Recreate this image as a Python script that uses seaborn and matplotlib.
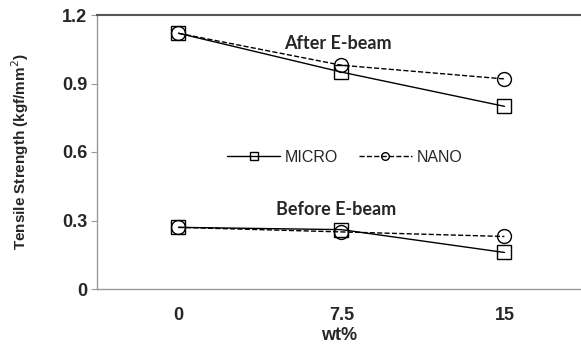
import numpy as np
import pandas as pd
import matplotlib
matplotlib.use("Agg")
import matplotlib.pyplot as plt
import seaborn as sns

# values
wt_labels = ["0", "7.5", "15"]
after_micro = [1.12, 0.95, 0.80]
after_nano = [1.12, 0.98, 0.92]
before_micro = [0.27, 0.26, 0.16]
before_nano = [0.27, 0.25, 0.23]

sns.set_theme(style="white")
plt.rcParams["font.family"] = ["Liberation Sans", "DejaVu Sans"]

fig = plt.figure(figsize=(5.81, 3.49), dpi=100)
ax = fig.add_axes([97 / 581, 1 - 289 / 349, 1 - 97 / 581, (289 - 15) / 349])

x = np.arange(len(wt_labels))
series = [
    (after_micro, "-", "s", "MICRO"),
    (after_nano, "--", "o", "NANO"),
    (before_micro, "-", "s", None),
    (before_nano, "--", "o", None),
]
for vals, ls, mk, lab in series:
    df = pd.DataFrame({"wt": x, "val": vals})
    sns.lineplot(data=df, x="wt", y="val", ax=ax, color="black", linestyle=ls,
                 linewidth=1.0, marker=mk, markersize=10, markerfacecolor="none",
                 markeredgecolor="black", markeredgewidth=1.0, label=lab,
                 legend=False)

ax.set_xlim(-0.5, 2.47)
ax.set_ylim(0, 1.2)
ax.set_yticks([0, 0.3, 0.6, 0.9, 1.2])
ax.set_yticklabels(["0", "0.3", "0.6", "0.9", "1.2"], fontweight="bold", fontsize=13)
ax.set_xticks(x)
ax.set_xticklabels(wt_labels, fontweight="bold", fontsize=13)
ax.set_xticks([0.5, 1.5], minor=True)
ax.tick_params(axis="x", which="major", length=0, pad=13)
ax.tick_params(axis="x", which="minor", length=4, width=0.8, color="#999999", direction="out")
ax.tick_params(axis="y", length=4, width=0.8, color="#999999", direction="out", left=True, pad=3)

ax.set_xlabel("wt%", fontweight="bold", fontsize=13, labelpad=2)
ax.set_ylabel("Tensile Strength (kgf/mm$^2$)", fontweight="bold", fontsize=11)
ax.yaxis.set_label_coords(-0.137, 0.5)

for side in ["left", "bottom"]:
    ax.spines[side].set_color("#999999")
    ax.spines[side].set_linewidth(1.0)
ax.spines["top"].set_color("#555555")
ax.spines["top"].set_linewidth(1.5)
ax.spines["right"].set_visible(False)

ax.text(0.98, 1.077, "After E-beam", ha="center", va="center", fontsize=13,
        fontweight="bold", family=["Lato", "DejaVu Sans"])
ax.text(0.97, 0.346, "Before E-beam", ha="center", va="center", fontsize=13,
        fontweight="bold", family=["Lato", "DejaVu Sans"])

handles, labels = ax.get_legend_handles_labels()
leg = ax.legend(handles[:2], labels[:2], loc="center", bbox_to_anchor=(0.512, 0.578 / 1.2),
                ncol=2, frameon=False, fontsize=11.5, markerscale=0.55, handlelength=3.3,
                columnspacing=1.3, handletextpad=0.3)

fig.savefig("out.png", dpi=100)
